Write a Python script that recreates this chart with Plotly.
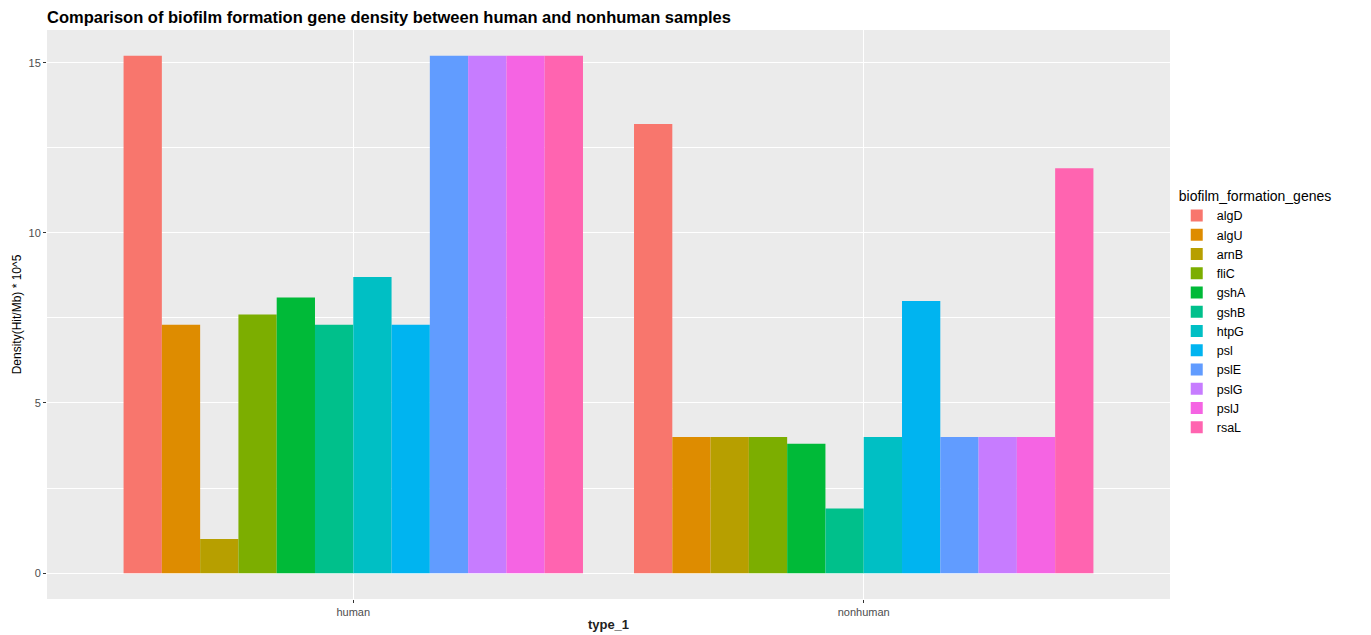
import plotly.graph_objects as go

categories = ["human", "nonhuman"]
genes = ["algD", "algU", "arnB", "fliC", "gshA", "gshB", "htpG", "psl", "pslE", "pslG", "pslJ", "rsaL"]
human_values = [15.2, 7.3, 1.0, 7.6, 8.1, 7.3, 8.7, 7.3, 15.2, 15.2, 15.2, 15.2]
nonhuman_values = [13.2, 4.0, 4.0, 4.0, 3.8, 1.9, 4.0, 8.0, 4.0, 4.0, 4.0, 11.9]
colors = ["#F8766D", "#DE8C00", "#B79F00", "#7CAE00", "#00BA38", "#00C08B",
          "#00BFC4", "#00B4F0", "#619CFF", "#C77CFF", "#F564E3", "#FF64B0"]

fig = go.Figure()
for i, g in enumerate(genes):
    fig.add_trace(go.Bar(
        x=categories, y=[human_values[i], nonhuman_values[i]], name=g,
        marker=dict(color=colors[i], line=dict(width=0)),
    ))

# the page body adds an 8px margin, so the figure is 8px smaller on each axis
W, H = 1363, 627
font = "Liberation Sans, Arial, sans-serif"
fig.update_layout(
    width=W, height=H,
    barmode="group", bargap=0.1, bargroupgap=0,
    paper_bgcolor="white", plot_bgcolor="#EBEBEB",
    margin=dict(l=39, r=201, t=22, b=36, autoexpand=False),
    font=dict(family=font, color="#000000"),
    title=dict(text="<b>Comparison of biofilm formation gene density between human and nonhuman samples</b>",
               x=39/W, xanchor="left", y=1 - 9/H, yanchor="middle",
               font=dict(size=16.5, color="black")),
    legend=dict(title=dict(text="biofilm_formation_genes", font=dict(size=14)),
                font=dict(size=12.5), x=1.006, xanchor="left", y=0.503, yanchor="middle",
                bgcolor="rgba(0,0,0,0)", tracegroupgap=0),
    xaxis=dict(range=[-0.6, 1.6], showgrid=True, gridcolor="white", gridwidth=1.2,
               automargin=False,
               ticks="outside", ticklen=3, tickcolor="#333333",
               tickfont=dict(size=11, color="#4D4D4D"),
               title=dict(text="<b>type_1</b>", font=dict(size=13, color="#222222"), standoff=2),
               zeroline=False, showline=False),
    yaxis=dict(range=[-0.76, 15.96], tickvals=[0, 5, 10, 15], showgrid=True,
               gridcolor="white", gridwidth=1.2, automargin=False,
               minor=dict(tickvals=[2.5, 7.5, 12.5], showgrid=True, gridcolor="white", gridwidth=0.6),
               ticks="outside", ticklen=3, tickcolor="#333333",
               tickfont=dict(size=11, color="#4D4D4D"),
               title=dict(text="Density(Hit/Mb) * 10^5", font=dict(size=12, color="black"), standoff=4),
               zeroline=False, showline=False),
)

fig.write_html("out.html")
